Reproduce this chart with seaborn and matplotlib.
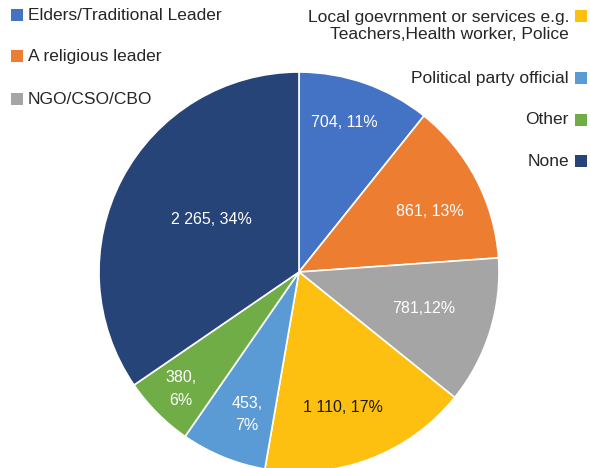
import matplotlib
matplotlib.use("Agg")
import matplotlib.pyplot as plt
from matplotlib.patches import Rectangle
import numpy as np
import seaborn as sns

categories = [
    "Elders/Traditional Leader",
    "A religious leader",
    "NGO/CSO/CBO",
    "Local goevrnment or services e.g.\nTeachers,Health worker, Police",
    "Political party official",
    "Other",
    "None",
]
values = [704, 861, 781, 1110, 453, 380, 2265]
slice_labels = ["704, 11%", "861, 13%", "781,12%", "1 110, 17%", "453,\n7%", "380,\n6%", "2 265, 34%"]

colors = ["#4472C4", "#ED7D31", "#A5A5A5", "#FDC010", "#5B9BD5", "#70AD47", "#264478"]
label_colors = ["white", "white", "white", "#1a1a1a", "white", "white", "white"]
# radial placement (fraction of radius) and small angular nudges for each label
label_radius = [0.78, 0.72, 0.65, 0.71, 0.76, 0.83, 0.51]
label_nudge = [2.5, -2.7, 1.2, -2.6, 2.3, 0.0, -3.0]

sns.set_theme(style="white")
plt.rcParams["font.family"] = ["Liberation Sans", "DejaVu Sans"]

W, H = 590, 468
fig = plt.figure(figsize=(W / 100, H / 100), dpi=100)

cx, cy, R = 299, 272, 200
ax = fig.add_axes([(cx - R) / W, (H - cy - R) / H, 2 * R / W, 2 * R / H])

wedges, _ = ax.pie(
    values,
    colors=colors,
    startangle=90,
    counterclock=False,
    radius=1,
    wedgeprops=dict(edgecolor="white", linewidth=1.2),
)
ax.set_xlim(-1, 1)
ax.set_ylim(-1, 1)
ax.set_aspect("equal")
ax.axis("off")

for w, lab, col, rf, nd in zip(wedges, slice_labels, label_colors, label_radius, label_nudge):
    mid = np.deg2rad((w.theta1 + w.theta2) / 2 + nd)
    ax.text(rf * np.cos(mid), rf * np.sin(mid), lab, ha="center", va="center",
            color=col, fontsize=11.5, linespacing=1.6)

text_col = "#262626"
sq = 12

def square(x, y, c):
    fig.patches.append(Rectangle((x / W, 1 - (y + sq) / H), sq / W, sq / H,
                                 transform=fig.transFigure, facecolor=c, edgecolor="none"))

# left-hand legend entries
left_y = [16, 57, 100]
for i, y in enumerate(left_y):
    square(11, y - 7, colors[i])
    fig.text(28 / W, 1 - y / H, categories[i], ha="left", va="center",
             fontsize=12.5, color=text_col)

# right-hand legend entries
right_y = [26, 78, 120, 161]
square_y = [10, 72, 114, 155]
for j, (y, sy) in enumerate(zip(right_y, square_y)):
    i = 3 + j
    square(575, sy, colors[i])
    fig.text(569 / W, 1 - y / H, categories[i], ha="right", va="center",
             fontsize=12.5, color=text_col, multialignment="right", linespacing=1.2)

fig.savefig("out.png", dpi=100)
